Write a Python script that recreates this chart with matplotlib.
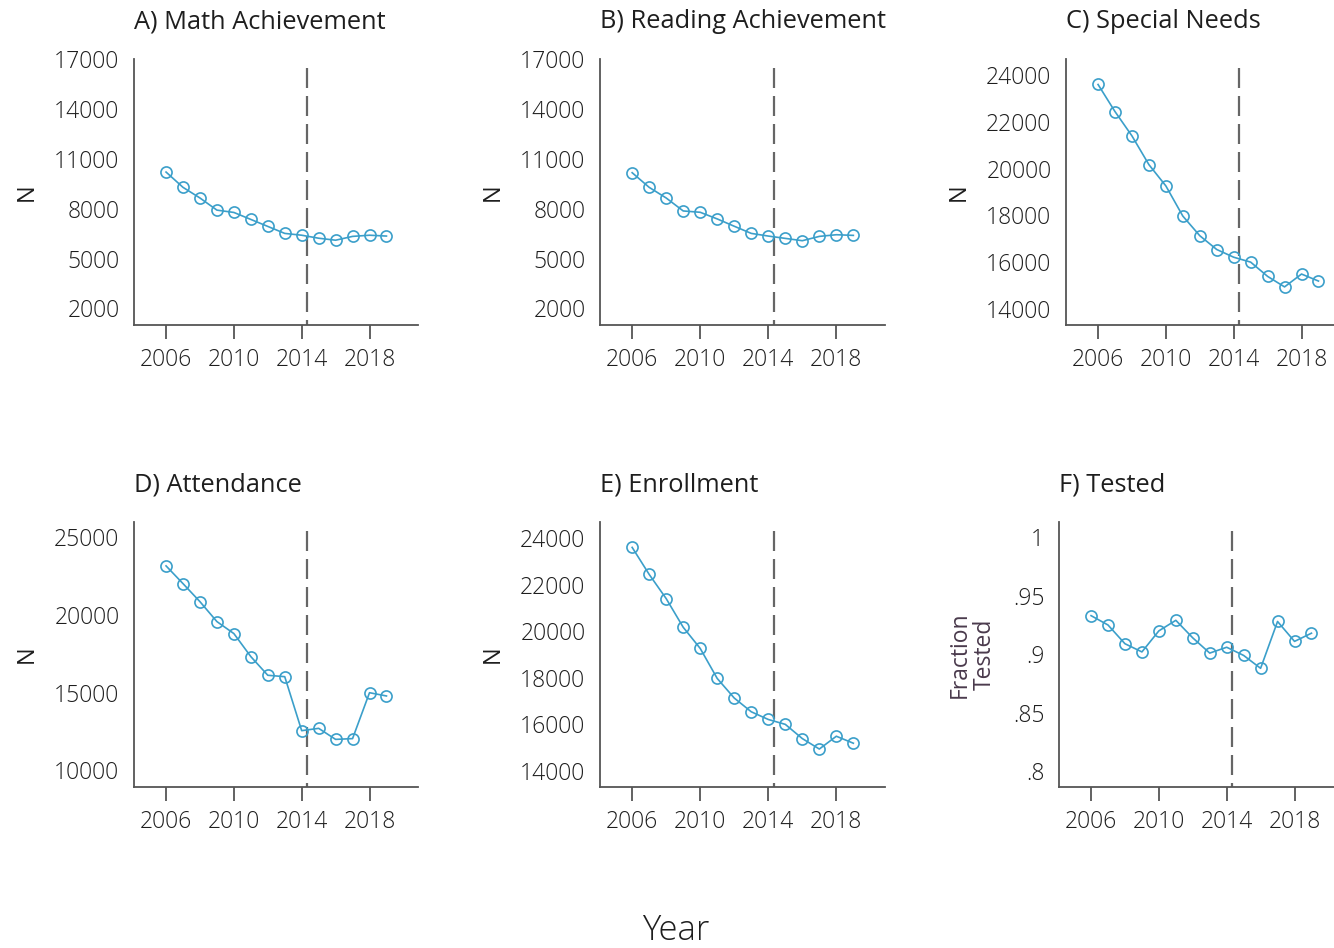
import matplotlib
matplotlib.use("Agg")
import matplotlib.pyplot as plt

plt.rcParams['font.family'] = ['Open Sans', 'DejaVu Sans']
plt.rcParams['font.weight'] = 'light'

years = list(range(2006, 2020))

math_n = [10200, 9280, 8640, 7910, 7770, 7350, 6930, 6510, 6400, 6220, 6100, 6330, 6400, 6350]
reading_n = [10160, 9280, 8640, 7860, 7780, 7380, 6940, 6510, 6350, 6210, 6070, 6330, 6430, 6390]
special_n = [23600, 22440, 21400, 20170, 19260, 17970, 17130, 16540, 16210, 16000, 15390, 14940, 15490, 15190]
attendance_n = [23140, 22000, 20840, 19560, 18790, 17310, 16110, 16020, 12550, 12700, 11990, 12040, 14990, 14780]
enrollment_n = [23600, 22440, 21400, 20170, 19260, 17970, 17130, 16540, 16210, 16000, 15390, 14940, 15490, 15190]
frac_tested = [0.933, 0.925, 0.909, 0.902, 0.920, 0.929, 0.914, 0.901, 0.906, 0.899, 0.888, 0.928, 0.911, 0.918]

titles = ["A) Math Achievement", "B) Reading Achievement", "C) Special Needs",
          "D) Attendance", "E) Enrollment", "F) Tested"]
series = [math_n, reading_n, special_n, attendance_n, enrollment_n, frac_tested]

yticks_ab = [2000, 5000, 8000, 11000, 14000, 17000]
yticks_ce = [14000, 16000, 18000, 20000, 22000, 24000]
yticks_d = [10000, 15000, 20000, 25000]
yticks_f = [0.8, 0.85, 0.9, 0.95, 1.0]
ytick_labels_f = [".8", ".85", ".9", ".95", "1"]

yticks = [yticks_ab, yticks_ab, yticks_ce, yticks_d, yticks_ce, yticks_f]
ylims = [(1000, 17000), (1000, 17000), (13310, 24690),
         (8930, 25960), (13310, 24690), (0.7866, 1.013)]
ylabels = ["N", "N", "N", "N", "N", "Fraction\nTested"]
xticks = [2006, 2010, 2014, 2018]
cutoff_year = 2014.33

W, H = 1334, 948
fig = plt.figure(figsize=(W / 100, H / 100), dpi=100)

# pixel boxes (left, top, right, bottom) for each panel
boxes = [(134, 59, 418, 325), (600, 59, 885, 325), (1066, 59, 1350, 325),
         (134, 522, 418, 787), (600, 522, 885, 787), (1059, 522, 1343, 787)]

line_color = "#3b9fca"
axis_color = "#555555"
text_color = "#1e1e1e"

for i, (l, t, r, b) in enumerate(boxes):
    ax = fig.add_axes([l / W, 1 - b / H, (r - l) / W, (b - t) / H])
    ax.plot(years, series[i], color=line_color, lw=1.2, marker="o",
            markersize=8, markerfacecolor="none", markeredgecolor=line_color,
            markeredgewidth=1.2, zorder=3)
    # cutoff marker, dash pattern running from the top down
    ax.axvline(cutoff_year, ymin=0.966, ymax=0, color="#666666", lw=1.6,
               dashes=(9, 3.6), zorder=2)
    ax.set_xlim(2004.11, 2020.86)
    ax.set_ylim(*ylims[i])
    ax.set_xticks(xticks)
    ax.set_xticklabels([str(x) for x in xticks])
    ax.set_yticks(yticks[i])
    if i == 5:
        ax.set_yticklabels(ytick_labels_f)
    else:
        ax.set_yticklabels([str(v) for v in yticks[i]])
    for side in ("top", "right"):
        ax.spines[side].set_visible(False)
    for side in ("left", "bottom"):
        ax.spines[side].set_color(axis_color)
        ax.spines[side].set_linewidth(1.3)
    ax.tick_params(axis="x", length=10, width=1.3, color=axis_color,
                   labelsize=16.5, labelcolor=text_color, pad=6.5)
    ax.tick_params(axis="y", length=0, labelsize=16.5, labelcolor=text_color, pad=10.5)
    ax.set_title(titles[i], loc="left", fontsize=18.3, color=text_color, pad=22, x=0.0)
    if i == 5:
        ax.set_ylabel(ylabels[i], fontsize=16.5, color="#4a3a4c", labelpad=12,
                      linespacing=1.05)
    else:
        ax.set_ylabel(ylabels[i], fontsize=17, color=text_color, labelpad=11,
                      fontweight="normal")

fig.text(676 / W, 1 - 931 / H, "Year", ha="center", va="center",
         fontsize=25, color=text_color)

fig.savefig("out.png", dpi=100, facecolor="white")
